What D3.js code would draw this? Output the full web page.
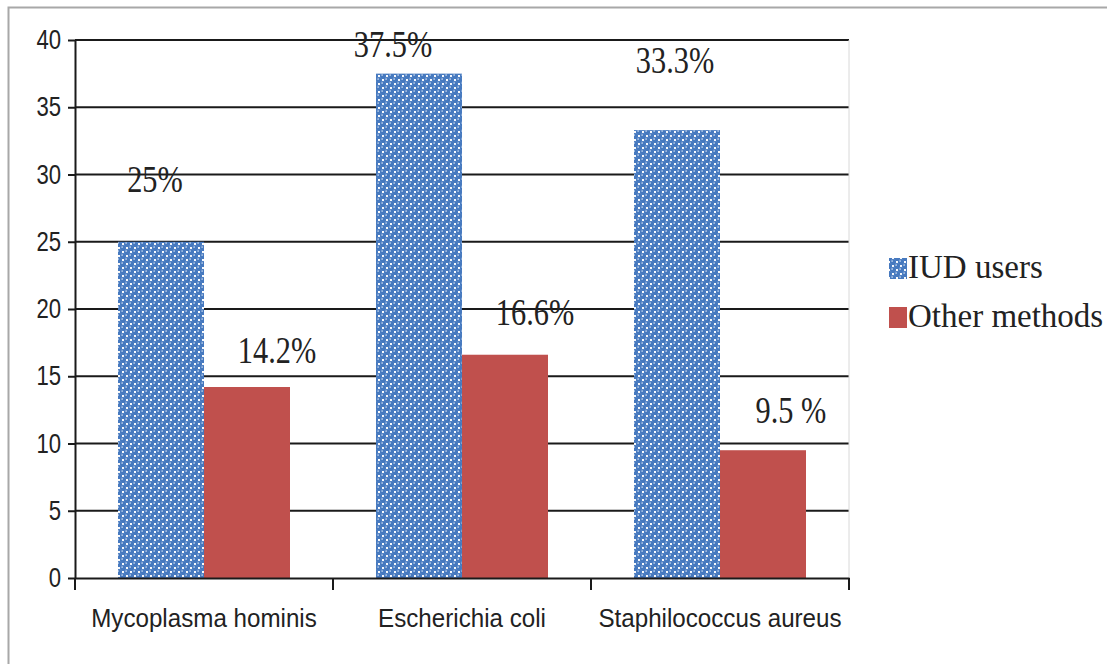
<!DOCTYPE html>
<html lang="en">
<head>
    <meta charset="UTF-8">
    <title>IUD users vs other methods</title>
    <script src="https://d3js.org/d3.v7.min.js"></script>
    <style>
        body { margin: 0; background: #fff; }
        .grid line { stroke: #1a1a1a; stroke-width: 2; }
        .axis path, .axis line { stroke: #1a1a1a; stroke-width: 2; fill: none; }
        .axis text { font-family: 'Liberation Sans', Arial, sans-serif; fill: #222; }
        .lbl { font-family: 'Liberation Serif', 'Times New Roman', serif; fill: #222; }
    </style>
</head>
<body>
    <svg width="1107" height="664"></svg>

    <script>
        const categories = ["Mycoplasma hominis", "Escherichia coli", "Staphilococcus aureus"];
        const seriesNames = ["IUD users", "Other methods"];
        const iudValues = [25, 37.5, 33.3];
        const otherValues = [14.2, 16.6, 9.5];
        const iudLabels = ["25%", "37.5%", "33.3%"];
        const otherLabels = ["14.2%", "16.6%", "9.5 %"];
        const yTicks = [0, 5, 10, 15, 20, 25, 30, 35, 40];

        // label placement (in axis units / px offsets)
        const iudLabelY = [28.7, 38.7, 37.55], iudLabelDx = [-6, -26, -2];
        const otherLabelY = [16.0, 18.8, 11.55], otherLabelDx = [30, 30, 28];

        const svg = d3.select("svg");
        const margin = {left: 75, top: 40, right: 258, bottom: 86};
        const width = 1107 - margin.left - margin.right,
            height = 664 - margin.top - margin.bottom;

        // outer frame
        svg.append("path")
            .attr("d", "M8.5,664 V7.5 H1107")
            .attr("fill", "none")
            .attr("stroke", "#a8a8a8")
            .attr("stroke-width", 2);

        // dotted pattern for IUD users
        const defs = svg.append("defs");
        const pat = defs.append("pattern")
            .attr("id", "dots")
            .attr("patternUnits", "userSpaceOnUse")
            .attr("width", 8).attr("height", 8);
        pat.append("rect").attr("width", 8).attr("height", 8).attr("fill", "#ffffff");
        [[0, 0], [8, 0], [0, 8], [8, 8], [4, 4]].forEach(function (p) {
            pat.append("circle").attr("cx", p[0]).attr("cy", p[1]).attr("r", 3.1).attr("fill", "#4679bf");
            pat.append("circle").attr("cx", p[0] - 0.9).attr("cy", p[1] - 0.9).attr("r", 0.8).attr("fill", "#d5e2f4");
        });

        const g = svg.append("g").attr("transform", "translate(" + margin.left + "," + margin.top + ")");

        const x0 = d3.scaleBand().domain(categories).range([0, width]).padding(0);
        const x1 = d3.scaleBand().domain(seriesNames).range([0, x0.bandwidth()]).paddingInner(0).paddingOuter(0.5);
        const y = d3.scaleLinear().domain([0, 40]).range([height, 0]);

        // gridlines
        g.append("g").attr("class", "grid")
            .selectAll("line")
            .data(yTicks.filter(function (d) { return d > 0; }))
            .enter().append("line")
            .attr("x1", 0).attr("x2", width)
            .attr("y1", function (d) { return y(d); })
            .attr("y2", function (d) { return y(d); });

        g.append("line")
            .attr("x1", width).attr("x2", width)
            .attr("y1", 0).attr("y2", height)
            .attr("stroke", "#d8d8d8").attr("stroke-width", 1);

        // bars
        const series = [
            {name: seriesNames[0], values: iudValues, fill: "url(#dots)"},
            {name: seriesNames[1], values: otherValues, fill: "#c0504d"}
        ];
        series.forEach(function (s) {
            g.append("g").selectAll("rect")
                .data(s.values)
                .enter().append("rect")
                .attr("x", function (d, i) { return x0(categories[i]) + x1(s.name); })
                .attr("width", x1.bandwidth())
                .attr("y", function (d) { return y(d); })
                .attr("height", function (d) { return height - y(d); })
                .attr("fill", s.fill);
        });

        // axes
        const yAxis = g.append("g").attr("class", "axis")
            .call(d3.axisLeft(y).tickValues(yTicks).tickSizeInner(7).tickSizeOuter(0).tickPadding(4));
        yAxis.selectAll("text")
            .attr("font-size", 27)
            .attr("transform", "scale(0.82,1)")
            .attr("x", -14 / 0.82);

        const xAxis = g.append("g").attr("class", "axis")
            .attr("transform", "translate(0," + height + ")")
            .call(d3.axisBottom(x0).tickSize(0).tickPadding(0));
        xAxis.selectAll(".tick text")
            .attr("font-size", 26)
            .attr("dy", 0)
            .attr("y", 0)
            .attr("transform", "translate(0,49) scale(0.93,1)");
        xAxis.selectAll(".sep")
            .data(d3.range(categories.length + 1))
            .enter().append("line")
            .attr("x1", function (i) { return i * x0.step(); })
            .attr("x2", function (i) { return i * x0.step(); })
            .attr("y1", 0).attr("y2", 12);

        // value labels
        function addLabels(texts, vals, dxs, name) {
            g.append("g").selectAll("text")
                .data(texts)
                .enter().append("text")
                .attr("class", "lbl")
                .attr("font-size", 37)
                .attr("text-anchor", "middle")
                .attr("transform", function (d, i) {
                    const cx = x0(categories[i]) + x1(name) + x1.bandwidth() / 2 + dxs[i];
                    return "translate(" + cx + "," + y(vals[i]) + ") scale(0.82,1)";
                })
                .text(function (d) { return d; });
        }
        addLabels(iudLabels, iudLabelY, iudLabelDx, seriesNames[0]);
        addLabels(otherLabels, otherLabelY, otherLabelDx, seriesNames[1]);

        // legend
        const legend = svg.append("g").attr("transform", "translate(889,258)");
        series.forEach(function (s, i) {
            const row = legend.append("g").attr("transform", "translate(0," + (i * 49) + ")");
            row.append("rect").attr("width", 18).attr("height", 21).attr("fill", s.fill);
            row.append("text")
                .attr("class", "lbl")
                .attr("x", 19).attr("y", 20)
                .attr("font-size", 33)
                .text(s.name);
        });
    </script>
</body>
</html>
